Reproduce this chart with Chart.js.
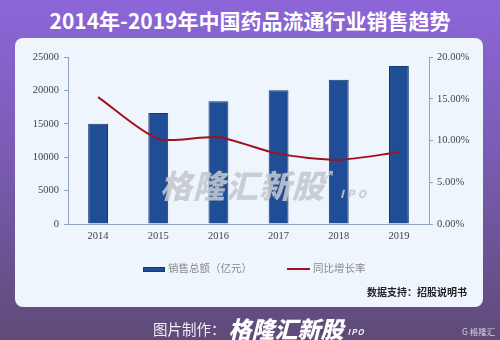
<!DOCTYPE html>
<html>
<head>
<meta charset="utf-8">
<script src="https://cdn.jsdelivr.net/npm/chart.js@4"></script>
<style>
  html, body { margin: 0; padding: 0; }
  body {
    width: 500px; height: 340px; position: relative; overflow: hidden;
    background: linear-gradient(180deg, #8c66d8 0%, #7a5cb4 45%, #5e4b77 100%);
    font-family: "Noto Sans CJK SC", "Noto Sans", sans-serif;
  }
  .title {
    position: absolute; left: 0; top: 5px; width: 500px; text-align: center;
    color: #fff; font-size: 21px; font-weight: bold; line-height: 30px;
  }
  .card {
    position: absolute; left: 15px; top: 38px; width: 468px; height: 269px;
    background: #eef5fd; border-radius: 8px;
  }
  #chart { position: absolute; left: 0; top: 0; }
  .wm {
    position: absolute; left: 160px; top: 165px; line-height: 32px; color: rgba(196, 200, 207, 0.88);
    font-size: 32px; font-weight: 900; font-style: italic; letter-spacing: 1px; white-space: nowrap;
  }
  .wm small { font-size: 11px; letter-spacing: 3px; margin-left: 4px; }
  .wm sup { font-size: 12px; font-style: normal; position: relative; top: -6px; margin-left: -2px; }
  .legend { position: absolute; top: 260px; font-size: 10.5px; color: #8a8a8a; white-space: nowrap; line-height: 16px; }
  .legend i { display: inline-block; vertical-align: middle; margin-right: 3px; }
  .source { position: absolute; left: 367px; top: 284px; font-size: 10px; font-weight: bold; color: #222; }
  .footer { position: absolute; left: 153px; top: 311px; color: #f2eef8; font-size: 14.5px; white-space: nowrap; }
  .footer b { font-size: 23px; font-style: italic; font-weight: 900; color: #fff; vertical-align: -3px; margin-left: 3px; }
  .footer small { font-size: 8px; font-style: italic; font-weight: bold; margin-left: 4px; letter-spacing: 1px; }
  .brand { position: absolute; left: 462px; top: 325px; color: #d8d2e2; font-size: 8.5px; white-space: nowrap; }
</style>
</head>
<body>
<div class="title">2014年-2019年中国药品流通行业销售趋势</div>
<div class="card"></div>
<canvas id="chart" width="500" height="340"></canvas>
<div class="wm">格隆汇新股<sup>↗</sup><small>IPO</small></div>
<div class="legend" style="left:143px"><i style="width:22px;height:5px;background:#1f4e96;border:1px solid #17386a;box-sizing:border-box"></i>销售总额（亿元）</div>
<div class="legend" style="left:287px"><i style="width:23px;height:2px;background:#a3121c"></i>同比增长率</div>
<div class="source">数据支持：招股说明书</div>
<div class="footer">图片制作：<b>格隆汇新股</b><small>IPO</small></div>
<div class="brand">G 格隆汇</div>

<script>
const years = ["2014", "2015", "2016", "2017", "2018", "2019"];
const sales = [15021, 16613, 18393, 20016, 21586, 23667];   // 亿元
const growth = [15.2, 10.2, 10.4, 8.4, 7.7, 8.6];          // %

const axisColor = "#8fa3c2";
const tickFont = { family: "'Liberation Serif', 'Times New Roman', serif", size: 10.5 };

new Chart(document.getElementById("chart"), {
  data: {
    labels: years,
    datasets: [
      {
        type: "line",
        label: "同比增长率",
        data: growth,
        yAxisID: "y1",
        borderColor: "#a3121c",
        borderWidth: 2,
        pointRadius: 0,
        tension: 0.25,
        order: 0,
      },
      {
        type: "bar",
        label: "销售总额（亿元）",
        data: sales,
        yAxisID: "y",
        backgroundColor: "#1f4e96",
        borderColor: "#17386a",
        borderWidth: 1,
        barPercentage: 0.33,
        categoryPercentage: 1,
        order: 1,
      },
    ],
  },
  options: {
    responsive: false,
    animation: false,
    layout: { padding: { left: 20, right: 20, top: 57, bottom: 86 } },
    plugins: { legend: { display: false }, tooltip: { enabled: false } },
    scales: {
      x: {
        grid: { display: true, drawOnChartArea: false, drawTicks: false },
        border: { color: axisColor },
        ticks: { font: tickFont, color: "#444", padding: 6 },
        afterFit: (s) => { s.height = 30; },
      },
      y: {
        position: "left",
        min: 0, max: 25000,
        grid: { drawOnChartArea: false, tickLength: 4, color: axisColor },
        border: { color: axisColor },
        ticks: { stepSize: 5000, font: tickFont, color: "#444", padding: 5, callback: (v) => String(v) },
        afterFit: (s) => { s.width = 48; },
      },
      y1: {
        position: "right",
        min: 0, max: 20,
        grid: { drawOnChartArea: false, tickLength: 4, color: axisColor },
        border: { color: axisColor },
        ticks: {
          stepSize: 5, font: tickFont, color: "#444", padding: 4,
          callback: (v) => v.toFixed(2) + "%",
        },
        afterFit: (s) => { s.width = 51; },
      },
    },
  },
});
</script>
</body>
</html>
